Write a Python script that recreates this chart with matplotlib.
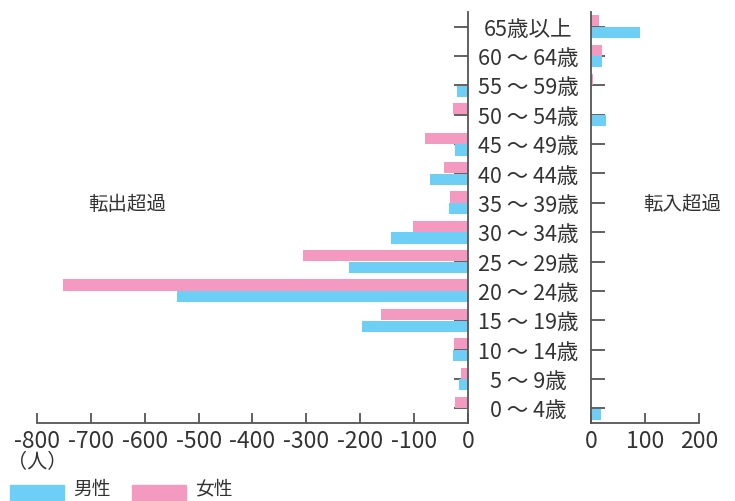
import matplotlib
matplotlib.use('Agg')
import matplotlib.pyplot as plt
import matplotlib.transforms as mtransforms
from matplotlib.patches import Rectangle

plt.rcParams['font.family'] = ['Noto Sans CJK JP', 'DejaVu Sans']

# 年齢階級（上から）と転入超過数（人）
age_labels = ['65歳以上', '60 ～ 64歳', '55 ～ 59歳', '50 ～ 54歳', '45 ～ 49歳',
              '40 ～ 44歳', '35 ～ 39歳', '30 ～ 34歳', '25 ～ 29歳', '20 ～ 24歳',
              '15 ～ 19歳', '10 ～ 14歳', '5 ～ 9歳', '0 ～ 4歳']
male = [91, 20, -21, 27, -24, -70, -35, -143, -221, -540, -197, -28, -17, 19]
female = [15, 20, 4, -28, -80, -44, -33, -102, -306, -751, -161, -26, -13, -24]

left_ticks = [-800, -700, -600, -500, -400, -300, -200, -100, 0]
right_ticks = [0, 100, 200]

c_male = '#6dcff6'
c_female = '#f49ac1'
c_axis = '#555555'
c_text = '#333333'

W, H = 735, 502
fig = plt.figure(figsize=(W / 100, H / 100), dpi=100)

def fx(px):
    return px / W

def fy(py):
    return 1 - py / H

y_top, y_bot = 13, 424
ax1 = fig.add_axes([fx(37), fy(y_bot), fx(468) - fx(37), fy(y_top) - fy(y_bot)])
ax2 = fig.add_axes([fx(591), fy(y_bot), fx(699) - fx(591), fy(y_top) - fy(y_bot)])

pos = list(range(len(age_labels)))
h = 0.38
for ax in (ax1, ax2):
    ax.barh([p - 0.2 for p in pos], female, height=h, color=c_female, zorder=2)
    ax.barh([p + 0.2 for p in pos], male, height=h, color=c_male, zorder=2)
    ax.set_ylim(len(pos) - 0.5, -0.5)
    ax.set_yticks(pos)
    ax.set_yticklabels([])
    ax.tick_params(axis='both', direction='in', color=c_axis, width=1.3,
                   labelsize=16.5, labelcolor=c_text, pad=4)
    ax.tick_params(axis='y', length=10)
    ax.tick_params(axis='x', length=7)
    ax.spines['top'].set_visible(False)
    for s in ax.spines.values():
        s.set_color(c_axis)
        s.set_linewidth(1.3)

ax1.set_xlim(-800, 0)
ax1.set_xticks(left_ticks)
ax1.set_xticklabels([str(t) for t in left_ticks])
ax1.spines['left'].set_visible(False)
ax1.yaxis.tick_right()

ax2.set_xlim(0, 200)
ax2.set_xticks(right_ticks)
ax2.set_xticklabels([str(t) for t in right_ticks])
ax2.spines['right'].set_visible(False)
ax2.yaxis.tick_left()

# 年齢階級ラベル（中央）
trans = mtransforms.blended_transform_factory(fig.transFigure, ax1.transData)
for p, lab in zip(pos, age_labels):
    ax1.text(fx(528), p + 0.07, lab, transform=trans, ha='center', va='center',
             fontsize=15.5, color=c_text, clip_on=False)

fig.text(fx(127), fy(205), '転出超過', ha='center', va='center', fontsize=14, color=c_text)
fig.text(fx(682), fy(205), '転入超過', ha='center', va='center', fontsize=14, color=c_text)
fig.text(fx(37), fy(463), '（人）', ha='center', va='center', fontsize=14.5, color=c_text)

# 凡例
for x0, col, lab in [(10, c_male, '男性'), (132, c_female, '女性')]:
    fig.patches.append(Rectangle((fx(x0), fy(504)), fx(54), fy(486) - fy(504),
                                 transform=fig.transFigure, color=col))
    fig.text(fx(x0 + 63), fy(489), lab, ha='left', va='center', fontsize=13.5, color=c_text)

fig.savefig('out.png', dpi=100)
